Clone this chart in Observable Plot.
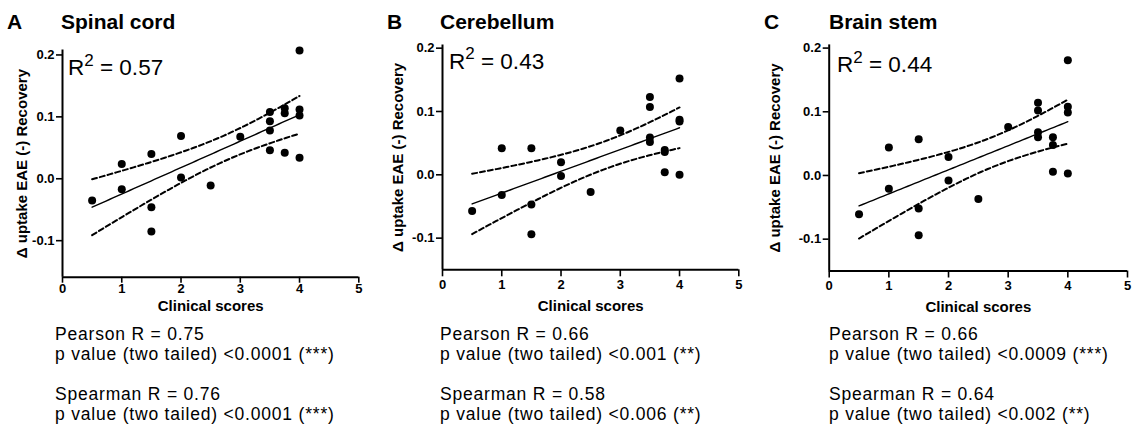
<!DOCTYPE html>
<html>
<head>
<meta charset="utf-8">
<script src="https://cdn.jsdelivr.net/npm/d3@7"></script>
<script src="https://cdn.jsdelivr.net/npm/@observablehq/plot@0.6"></script>
<style>
  html, body { margin: 0; padding: 0; background: #fff; }
  body { font-family: "Liberation Sans", Arial, Helvetica, sans-serif; color: #000; }
  #fig { position: relative; width: 1137px; height: 443px; overflow: hidden; background: #fff; }
  .panel { position: absolute; top: 0; }
  .letter, .title { position: absolute; font-weight: bold; font-size: 21px; line-height: 21px; white-space: nowrap; }
  .r2 { position: absolute; font-size: 22.5px; line-height: 23px; white-space: nowrap; }
  .r2 sup { font-size: 17px; position: relative; top: -1px; vertical-align: super; line-height: 0; }
  .stats { position: absolute; font-size: 17.5px; line-height: 20px; letter-spacing: 0.8px; white-space: nowrap; }
  .stats div { height: 20px; }
</style>
</head>
<body>
<div id="fig"></div>
<script>
// ---------- data ----------
const panelLetters = ["A", "B", "C"];
const panelTitles = ["Spinal cord", "Cerebellum", "Brain stem"];
const r2Values = ["0.57", "0.43", "0.44"];
const pearsonR = ["0.75", "0.66", "0.66"];
const pearsonP = ["<0.0001 (***)", "<0.001 (**)", "<0.0009 (***)"];
const spearmanR = ["0.76", "0.58", "0.64"];
const spearmanP = ["<0.0001 (***)", "<0.006 (**)", "<0.002 (**)"];

const clinicalScores = [0.5, 1, 1, 1.5, 1.5, 1.5, 2, 2, 2.5, 3, 3.5, 3.5, 3.5, 3.5, 3.75, 3.75, 3.75, 4, 4, 4, 4];
const spinalCord = [-0.035, 0.024, -0.017, 0.040, -0.046, -0.085, 0.069, 0.002, -0.011, 0.068, 0.108, 0.093, 0.078, 0.046, 0.114, 0.106, 0.042, 0.207, 0.112, 0.102, 0.034];
const cerebellum = [-0.057, 0.042, -0.032, 0.042, -0.047, -0.094, 0.020, -0.002, -0.027, 0.070, 0.123, 0.107, 0.059, 0.052, 0.039, 0.036, 0.004, 0.152, 0.087, 0.084, 0.000];
const brainStem = [-0.061, 0.044, -0.021, 0.057, -0.052, -0.094, 0.029, -0.008, -0.037, 0.076, 0.114, 0.102, 0.068, 0.060, 0.060, 0.048, 0.006, 0.181, 0.108, 0.099, 0.003];
const seriesValues = [spinalCord, cerebellum, brainStem];

const xTicks = [0, 1, 2, 3, 4, 5];
const yTicks = [-0.1, 0.0, 0.1, 0.2];
const xLabel = "Clinical scores";
const yLabel = "\u0394 uptake EAE (-) Recovery";
const tCrit = 2.093; // two-tailed 95 %, df = n - 2 = 19

// ---------- layout (pixels) ----------
const layout = [
  { left: 0,   width: 370, mL: 62,   mR: 11.7, mT: 49.5, mB: 43.3, yDomain: [-0.159, 0.208], tick: 6, pad: 1, ylab: -40, xlab: 29,
    letterX: 7, titleX: 61, r2X: 68, r2Y: 56, statsX: 55 },
  { left: 380, width: 370, mL: 62,   mR: 11.7, mT: 44.5, mB: 50.7, yDomain: [-0.150, 0.205], tick: 7, pad: 3, ylab: -44, xlab: 36,
    letterX: 387, titleX: 440, r2X: 449, r2Y: 49.5, statsX: 440 },
  { left: 757, width: 380, mL: 71.7, mR: 10,   mT: 44.4, mB: 49.5, yDomain: [-0.150, 0.205], tick: 7, pad: 3, ylab: -54, xlab: 36,
    letterX: 764, titleX: 829, r2X: 837, r2Y: 53, statsX: 829 }
];

// ---------- regression with 95% confidence band ----------
function regression(xs, ys) {
  const n = xs.length, mx = d3.mean(xs), my = d3.mean(ys);
  let sxx = 0, sxy = 0, syy = 0;
  for (let i = 0; i < n; i++) {
    sxx += (xs[i] - mx) ** 2;
    sxy += (xs[i] - mx) * (ys[i] - my);
    syy += (ys[i] - my) ** 2;
  }
  const b = sxy / sxx, a = my - b * mx;
  const s = Math.sqrt((syy - b * sxy) / (n - 2));
  const [x0, x1] = d3.extent(xs);
  const grid = d3.range(0, 61).map(k => x0 + (x1 - x0) * k / 60);
  return grid.map(x => {
    const yh = a + b * x;
    const h = tCrit * s * Math.sqrt(1 / n + (x - mx) ** 2 / sxx);
    return { x, fit: yh, lo: yh - h, hi: yh + h };
  });
}

const fig = document.getElementById("fig");
const font = "'Liberation Sans', Arial, Helvetica, sans-serif";

layout.forEach((L, p) => {
  const pts = clinicalScores.map((x, i) => ({ x, y: seriesValues[p][i] }));
  const band = regression(clinicalScores, seriesValues[p]);

  const chart = Plot.plot({
    width: L.width,
    height: 320,
    marginLeft: L.mL,
    marginRight: L.mR,
    marginTop: L.mT,
    marginBottom: L.mB,
    style: { fontFamily: font, background: "transparent", overflow: "visible", color: "#000" },
    x: { domain: [0, 5] },
    y: { domain: L.yDomain },
    marks: [
      Plot.axisX({ ticks: xTicks, tickSize: L.tick, tickPadding: L.pad, fontSize: 13, fontWeight: "bold", strokeWidth: 1.6, label: null, tickFormat: d => String(d) }),
      Plot.axisY({ ticks: yTicks, tickSize: 6, tickPadding: 2, fontSize: 13, fontWeight: "bold", strokeWidth: 1.6, label: null, tickFormat: d => d.toFixed(1) }),
      Plot.ruleX([0], { strokeWidth: 2 }),
      Plot.ruleY([L.yDomain[0]], { strokeWidth: 2 }),
      Plot.text([yLabel], { frameAnchor: "left", rotate: -90, dx: L.ylab, fontSize: 15, fontWeight: "bold", textAnchor: "middle", lineAnchor: "middle" }),
      Plot.text([xLabel], { frameAnchor: "bottom", dy: L.xlab, fontSize: 15, fontWeight: "bold", textAnchor: "middle", lineAnchor: "middle" }),
      Plot.line(band, { x: "x", y: "hi", stroke: "black", strokeWidth: 2, strokeDasharray: "5,3" }),
      Plot.line(band, { x: "x", y: "lo", stroke: "black", strokeWidth: 2, strokeDasharray: "5,3" }),
      Plot.line(band, { x: "x", y: "fit", stroke: "black", strokeWidth: 1.4 }),
      Plot.dot(pts, { x: "x", y: "y", r: 4, fill: "black", stroke: "none" })
    ]
  });
  const wrap = document.createElement("div");
  wrap.className = "panel";
  wrap.style.left = L.left + "px";
  wrap.appendChild(chart);
  fig.appendChild(wrap);

  const letter = document.createElement("div");
  letter.className = "letter";
  letter.style.left = L.letterX + "px";
  letter.style.top = "11px";
  letter.textContent = panelLetters[p];
  fig.appendChild(letter);

  const title = document.createElement("div");
  title.className = "title";
  title.style.left = L.titleX + "px";
  title.style.top = "11px";
  title.textContent = panelTitles[p];
  fig.appendChild(title);

  const r2 = document.createElement("div");
  r2.className = "r2";
  r2.style.left = L.r2X + "px";
  r2.style.top = L.r2Y + "px";
  r2.innerHTML = "R<sup>2</sup> = " + r2Values[p];
  fig.appendChild(r2);

  const stats = document.createElement("div");
  stats.className = "stats";
  stats.style.left = L.statsX + "px";
  stats.style.top = "323.5px";
  const lines = [
    "Pearson R = " + pearsonR[p],
    "p value (two tailed) " + pearsonP[p],
    "",
    "Spearman R = " + spearmanR[p],
    "p value (two tailed) " + spearmanP[p]
  ];
  lines.forEach(t => { const d = document.createElement("div"); d.textContent = t; stats.appendChild(d); });
  fig.appendChild(stats);
});
</script>
</body>
</html>
